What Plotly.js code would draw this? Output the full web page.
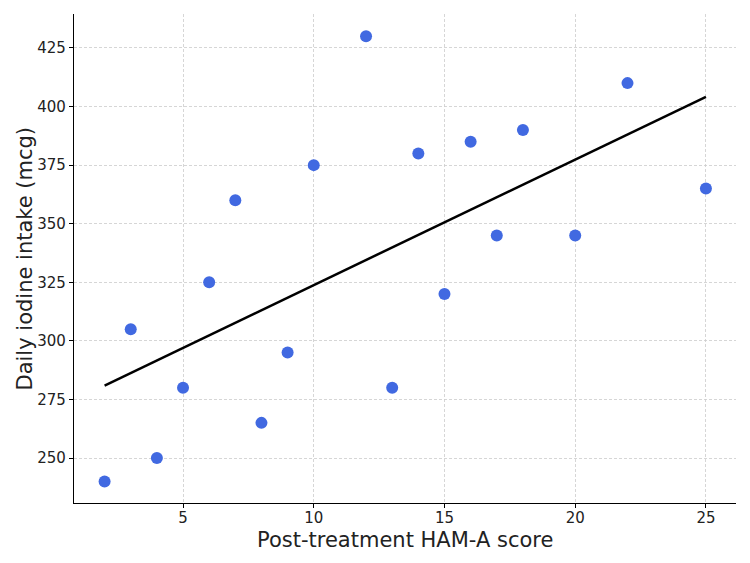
<!DOCTYPE html>
<html>
<head>
<meta charset="utf-8">
<script src="https://cdn.plot.ly/plotly-3.0.1.min.js"></script>
<style>body{margin:0;padding:0;background:#fff;}</style>
</head>
<body>
<div id="chart" style="width:750px;height:563px;"></div>
<script>
const hamScores = [2, 3, 4, 5, 6, 7, 8, 9, 10, 12, 13, 14, 15, 16, 17, 18, 20, 22, 25];
const iodineIntake = [240, 305, 250, 280, 325, 360, 265, 295, 375, 430, 280, 380, 320, 385, 345, 390, 345, 410, 365];
const xTicks = [5, 10, 15, 20, 25];
const yTicks = [250, 275, 300, 325, 350, 375, 400, 425];
const xTitle = 'Post-treatment HAM-A score';
const yTitle = 'Daily iodine intake (mcg)';

// least-squares fit
const n = hamScores.length;
const mx = hamScores.reduce((a, b) => a + b, 0) / n;
const my = iodineIntake.reduce((a, b) => a + b, 0) / n;
let sxy = 0, sxx = 0;
for (let i = 0; i < n; i++) {
  sxy += (hamScores[i] - mx) * (iodineIntake[i] - my);
  sxx += (hamScores[i] - mx) ** 2;
}
const slope = sxy / sxx;
const intercept = my - slope * mx;
const xMin = Math.min(...hamScores), xMax = Math.max(...hamScores);
const fitX = [xMin, xMax];
const fitY = fitX.map(x => intercept + slope * x);

const font = "DejaVu Sans, sans-serif";
const data = [
  {
    x: hamScores, y: iodineIntake, type: 'scatter', mode: 'markers',
    marker: {color: '#4169E1', size: 12, line: {width: 0}},
    showlegend: false, cliponaxis: false
  },
  {
    x: fitX, y: fitY, type: 'scatter', mode: 'lines',
    line: {color: 'black', width: 2.5}, showlegend: false
  }
];
const layout = {
  width: 750, height: 563,
  margin: {l: 74, r: 14, t: 14, b: 60},
  paper_bgcolor: 'white', plot_bgcolor: 'white',
  font: {family: font, color: '#222'},
  xaxis: {
    range: [0.83, 26.15], tickvals: xTicks, ticktext: xTicks.map(String),
    showline: true, linecolor: 'black', linewidth: 1.2, mirror: false,
    ticks: 'outside', ticklen: 4, tickcolor: 'black', tickwidth: 1,
    ticklabelstandoff: -3,
    showgrid: true, gridcolor: '#cccccc', griddash: '3px,2px', gridwidth: 0.8,
    zeroline: false, tickfont: {size: 15, family: font}
  },
  yaxis: {
    range: [230.8, 439.5], tickvals: yTicks, ticktext: yTicks.map(String),
    showline: true, linecolor: 'black', linewidth: 1.2, mirror: false,
    ticks: 'outside', ticklen: 4, tickcolor: 'black', tickwidth: 1,
    showgrid: true, gridcolor: '#cccccc', griddash: '3px,2px', gridwidth: 0.8,
    zeroline: false, tickfont: {size: 15, family: font}
  },
  annotations: [
    {text: xTitle, xref: 'paper', yref: 'paper', x: 0.5, y: 0,
     xanchor: 'center', yanchor: 'middle', yshift: -37, showarrow: false,
     font: {size: 21, family: font, color: '#222'}},
    {text: yTitle, xref: 'paper', yref: 'paper', x: 0, y: 0.5, textangle: -90,
     xanchor: 'center', yanchor: 'middle', xshift: -50, showarrow: false,
     font: {size: 21, family: font, color: '#222'}}
  ]
};
Plotly.newPlot('chart', data, layout, {displayModeBar: false, staticPlot: true});
</script>
</body>
</html>
